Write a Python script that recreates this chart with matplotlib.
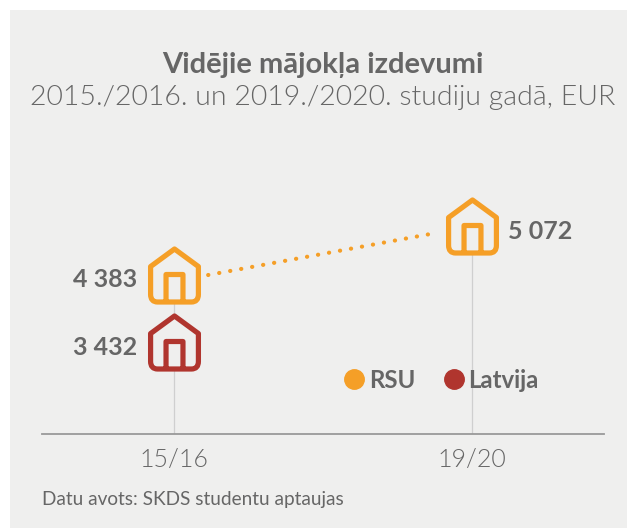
import matplotlib
matplotlib.use('Agg')
import matplotlib.pyplot as plt
from matplotlib.lines import Line2D
from matplotlib.markers import MarkerStyle
from matplotlib.patches import Rectangle
from matplotlib.path import Path
from matplotlib.transforms import IdentityTransform

# Chart values
periods = ['15/16', '19/20']
rsu_values = [4383, 5072]
latvia_values = [3432]
rsu_labels = ['4 383', '5 072']
latvia_labels = ['3 432']

title = 'Vidējie mājokļa izdevumi'
subtitle = '2015./2016. un 2019./2020. studiju gadā, EUR'
source = 'Datu avots: SKDS studentu aptaujas'

ORANGE = '#f59f27'
RED = '#b0352e'
BG = '#efefee'
TEXT = '#666666'

plt.rcParams['font.family'] = ['Lato', 'DejaVu Sans']

W, H = 627, 528
fig = plt.figure(figsize=(W / 100, H / 100), dpi=100, facecolor='white')
fig.add_artist(Rectangle((10 / W, 0), (W - 10) / W, (H - 10) / H, transform=fig.transFigure,
                         facecolor=BG, edgecolor='none', zorder=-5))

# Axes box set so the baseline and both categories land where they are in the reference
BASE = 2131
ax = fig.add_axes([42 / W, (H - 434) / H, 562 / W, 324 / H], facecolor='none')
ax.set_xlim(-0.4435, 1.4425)
ax.set_ylim(BASE, BASE + 324 / 0.0706)

# House marker, units are pixels around the centre
outline_v = [(-24, 9), (0, 26.6), (24, 9), (24, -19), (24, -26.6), (17, -26.6),
             (-17, -26.6), (-24, -26.6), (-24, -19), (-24, 9)]
outline_c = [Path.MOVETO, Path.LINETO, Path.LINETO, Path.LINETO, Path.CURVE3, Path.CURVE3,
             Path.LINETO, Path.CURVE3, Path.CURVE3, Path.CLOSEPOLY]
door_v = [(-8.5, -26.6), (-8.5, 1), (8.5, 1), (8.5, -26.6)]
door_c = [Path.MOVETO, Path.LINETO, Path.LINETO, Path.LINETO]
house_fill = Path(outline_v, outline_c)
house_line = Path(outline_v + door_v, outline_c + door_c)
house_size = 53 * 0.72


def draw_houses(xs, ys, color):
    ax.plot(xs, ys, ls='none', marker=MarkerStyle(house_fill), ms=house_size,
            mfc=BG, mec='none', zorder=3, clip_on=False)
    ax.plot(xs, ys, ls='none', marker=MarkerStyle(house_line, fillstyle='none', joinstyle='round'),
            ms=house_size, mec=color, mew=5.2 * 0.72, zorder=4, clip_on=False)


x_pos = list(range(len(periods)))

# Stems
ax.vlines(x_pos, BASE, rsu_values, color='#cfcfcf', lw=0.9, zorder=1)

# Dotted link between the houses, trimmed so it stops short of them
p0 = ax.transData.transform((x_pos[0], rsu_values[0]))
p1 = ax.transData.transform((x_pos[1], rsu_values[1]))
ax.plot([p0[0] + 34, p1[0] - 41], [p0[1], p1[1] - 7.5], transform=IdentityTransform(),
        color=ORANGE, lw=3, ls=(0, (0.05, 2.63)), dash_capstyle='round', zorder=2, clip_on=False)

draw_houses(x_pos, rsu_values, ORANGE)
draw_houses(x_pos[:1], latvia_values, RED)

# Value labels
ax.annotate(rsu_labels[0], (x_pos[0], rsu_values[0]), xytext=(-26.5, -3.5), textcoords='offset points',
            ha='right', va='center', fontsize=18, fontweight='bold', color=TEXT)
ax.annotate(latvia_labels[0], (x_pos[0], latvia_values[0]), xytext=(-26.5, -3.5), textcoords='offset points',
            ha='right', va='center', fontsize=18, fontweight='bold', color=TEXT)
ax.annotate(rsu_labels[1], (x_pos[1], rsu_values[1]), xytext=(26, -3.5), textcoords='offset points',
            ha='left', va='center', fontsize=18, fontweight='bold', color=TEXT)

# Axis
for side in ['top', 'left', 'right']:
    ax.spines[side].set_visible(False)
ax.spines['bottom'].set_color('#999999')
ax.spines['bottom'].set_linewidth(1.3)
ax.set_yticks([])
ax.set_xticks(x_pos)
ax.set_xticklabels(periods, fontsize=18, color=TEXT, fontweight=300)
ax.tick_params(axis='x', length=0, pad=10)

# Legend
handles = [Line2D([], [], ls='none', marker='o', ms=14, color=ORANGE, label='RSU'),
           Line2D([], [], ls='none', marker='o', ms=14, color=RED, label='Latvija')]
leg = ax.legend(handles=handles, ncols=2, frameon=False, loc='center left',
                bbox_to_anchor=(299 / 562, (434 - 380) / 324), borderaxespad=0, borderpad=0,
                handletextpad=0.03, columnspacing=1.05, handlelength=1.12,
                prop={'size': 17.3, 'weight': 'bold'})
for t in leg.get_texts():
    t.set_color(TEXT)

# Titles and source
fig.text(323 / W, 1 - 65.5 / H, title, ha='center', va='center', fontsize=21, fontweight='bold', color=TEXT)
fig.text(323 / W, 1 - 97 / H, subtitle, ha='center', va='center', fontsize=20.5, fontweight=300, color=TEXT)
fig.text(42 / W, 1 - 499 / H, source, ha='left', va='center', fontsize=13.7, color=TEXT)

fig.savefig('out.png', dpi=100)
